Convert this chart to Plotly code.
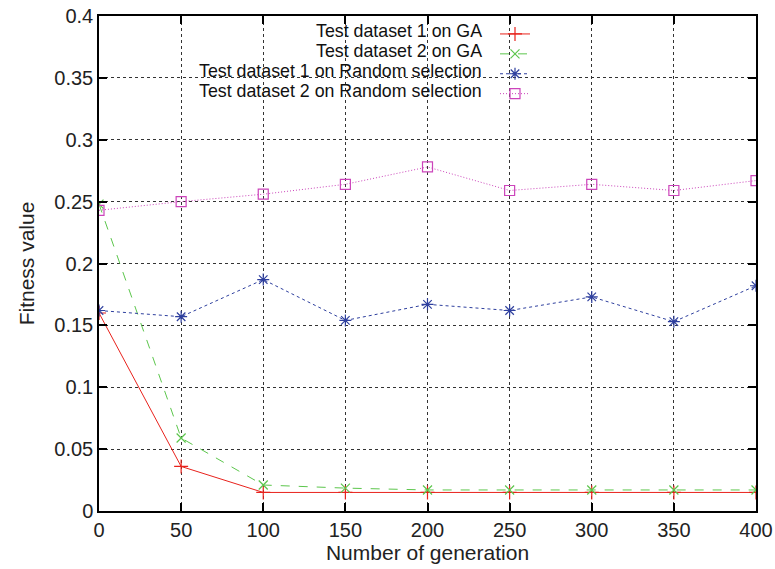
import plotly.graph_objects as go

generations = [0, 50, 100, 150, 200, 250, 300, 350, 400]
ga_test1 = [0.160, 0.036, 0.015, 0.015, 0.015, 0.015, 0.015, 0.015, 0.015]
ga_test2 = [0.248, 0.059, 0.021, 0.0185, 0.017, 0.017, 0.017, 0.017, 0.017]
rand_test1 = [0.162, 0.157, 0.187, 0.154, 0.167, 0.162, 0.173, 0.153, 0.182]
rand_test2 = [0.243, 0.250, 0.256, 0.264, 0.278, 0.259, 0.264, 0.259, 0.267]
series_names = ["Test dataset 1 on GA", "Test dataset 2 on GA",
                "Test dataset 1 on Random selection", "Test dataset 2 on Random selection"]

FONT = "Liberation Sans, Arial, sans-serif"
W, H = 775, 569
L, R, T, B = 99, 19, 16, 58
PW, PH = W - L - R, H - T - B

def px_x(p):
    return (p - L) / PW

def px_y(p):
    return (H - B - p) / PH

styles = [
    dict(color="#e8221c", dash="solid", symbol="cross-thin-open", size=10),
    dict(color="#5cc64c", dash="dash", symbol="x-thin-open", size=9),
    dict(color="#2e3f9e", dash="dot", symbol="asterisk-open", size=10),
    dict(color="#cc44bb", dash="1px,2px", symbol="square-open", size=10),
]
data = [ga_test1, ga_test2, rand_test1, rand_test2]

fig = go.Figure()
for vals, st in zip(data, styles):
    fig.add_trace(go.Scatter(
        x=generations, y=vals, mode="lines+markers", name=" ",
        line=dict(color=st["color"], width=1, dash=st["dash"]),
        marker=dict(symbol=st["symbol"], size=st["size"], color=st["color"],
                    line=dict(color=st["color"], width=1.2)),
    ))

axis_common = dict(
    showline=True, linecolor="black", linewidth=1.5, mirror="allticks",
    ticks="inside", ticklen=8, tickcolor="black", tickwidth=1.5,
    showgrid=True, gridcolor="#333333", griddash="dot", gridwidth=1,
    zeroline=False, tickfont=dict(family=FONT, size=20, color="#222"),
    title_font=dict(family=FONT, size=21, color="#222"),
)

fig.update_xaxes(range=[0, 400], dtick=50, tick0=0,
                 title_text="Number of generation", title_standoff=2, **axis_common)
fig.update_yaxes(range=[0, 0.4], dtick=0.05, tick0=0,
                 title_text="Fitness value", title_standoff=14, **axis_common)

# white box behind legend
fig.add_shape(type="rect", xref="paper", yref="paper", layer="between",
              x0=px_x(100), x1=px_x(556), y0=px_y(98), y1=1,
              fillcolor="white", line=dict(width=0))

row_y = [31.5, 51.4, 71.3, 91.2]
for name, py in zip(series_names, row_y):
    fig.add_annotation(text=name, xref="paper", yref="paper",
                       x=px_x(484), y=px_y(py), xanchor="right", yanchor="middle",
                       showarrow=False, font=dict(family=FONT, size=17.8, color="#111"))

fig.update_layout(
    width=W, height=H,
    margin=dict(l=L, r=R, t=T, b=B, autoexpand=False),
    paper_bgcolor="white", plot_bgcolor="white",
    showlegend=True,
    legend=dict(x=px_x(495), y=px_y(19.0), xanchor="left", yanchor="top",
                bgcolor="rgba(0,0,0,0)", font=dict(family=FONT, size=13),
                tracegroupgap=0, itemwidth=30),
    font=dict(family=FONT),
)

fig.write_html("out.html", config={"displayModeBar": False},
               post_script="document.body.style.margin='0';")
